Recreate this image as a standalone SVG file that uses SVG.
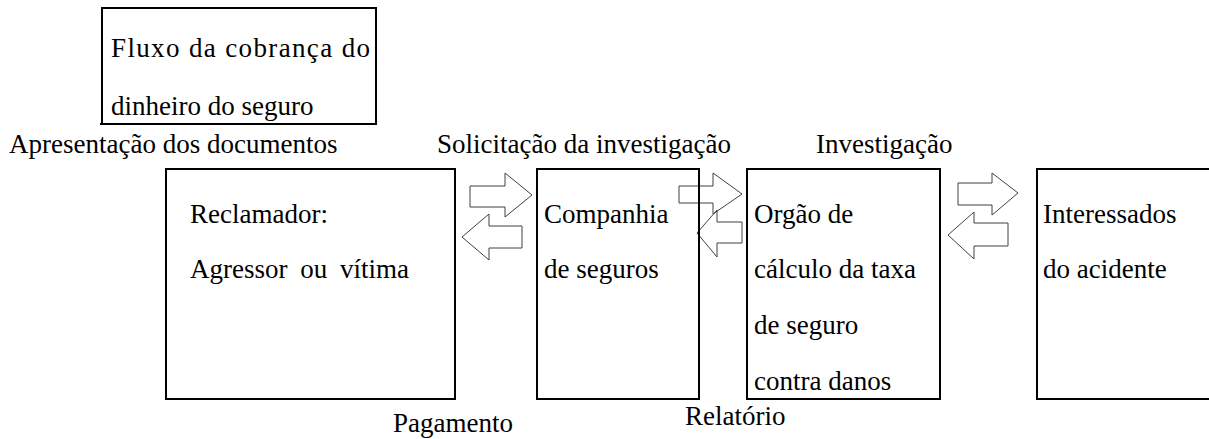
<svg xmlns="http://www.w3.org/2000/svg" width="1209" height="439" viewBox="0 0 1209 439">
<rect width="1209" height="439" fill="#fff"/>
<g id="title">
<path d="M102,123 V8 H376 V125 M100,124 H377" fill="none" stroke="#000" stroke-width="2"/>
<text x="111" y="57" style="font-family:'Liberation Serif';font-size:27px" textLength="259" lengthAdjust="spacing">Fluxo da cobrança do</text>
<text x="111" y="115" style="font-family:'Liberation Serif';font-size:27px">dinheiro do seguro</text>
</g>
<g id="labels">
<text x="9" y="153" style="font-family:'Liberation Serif';font-size:27px">Apresentação dos documentos</text>
<text x="437" y="153" style="font-family:'Liberation Serif';font-size:27px">Solicitação da investigação</text>
<text x="816" y="153" style="font-family:'Liberation Serif';font-size:27px">Investigação</text>
<text x="393" y="432" style="font-family:'Liberation Serif';font-size:27px">Pagamento</text>
<text x="685" y="425" style="font-family:'Liberation Serif';font-size:27px">Relatório</text>
</g>
<g id="connectors" fill="none" stroke="#404040" stroke-width="1">
<polygon points="470,186 505,186 505,173 532,195 505,217 505,207 470,207"/>
<polygon points="522,226 489,226 489,214 462,237 489,260 489,248 522,248"/>
<polygon points="679,186 713,186 713,173 742,194 713,214 713,203 679,203"/>
<polygon points="742,222 717,222 717,210 697,233 717,257 717,243 742,243"/>
<polygon points="958,183 992,183 992,173 1018,193 992,215 992,205 958,205"/>
<polygon points="1008,223 974,223 974,212 948,235 974,259 974,246 1008,246"/>
</g>
<g id="node-reclamador">
<rect x="166" y="169" width="289" height="230" fill="none" stroke="#000" stroke-width="2"/>
<text x="190" y="223" style="font-family:'Liberation Serif';font-size:27px">Reclamador:</text>
<text x="190" y="278" style="font-family:'Liberation Serif';font-size:27px;word-spacing:6px">Agressor ou vítima</text>
</g>
<g id="node-companhia">
<rect x="537" y="169" width="162" height="230" fill="none" stroke="#000" stroke-width="2"/>
<text x="544" y="223" style="font-family:'Liberation Serif';font-size:27px">Companhia</text>
<text x="544" y="278" style="font-family:'Liberation Serif';font-size:27px">de seguros</text>
</g>
<g id="node-orgao">
<rect x="747" y="169" width="193" height="230" fill="none" stroke="#000" stroke-width="2"/>
<text x="754" y="223" style="font-family:'Liberation Serif';font-size:27px">Orgão de</text>
<text x="754" y="278" style="font-family:'Liberation Serif';font-size:27px">cálculo da taxa</text>
<text x="754" y="334" style="font-family:'Liberation Serif';font-size:27px">de seguro</text>
<text x="754" y="390" style="font-family:'Liberation Serif';font-size:27px">contra danos</text>
</g>
<g id="node-interessados">
<path d="M1209,169 H1037 V399 H1209" fill="none" stroke="#000" stroke-width="2"/>
<text x="1043" y="223" style="font-family:'Liberation Serif';font-size:27px">Interessados</text>
<text x="1043" y="278" style="font-family:'Liberation Serif';font-size:27px">do acidente</text>
</g>
</svg>
